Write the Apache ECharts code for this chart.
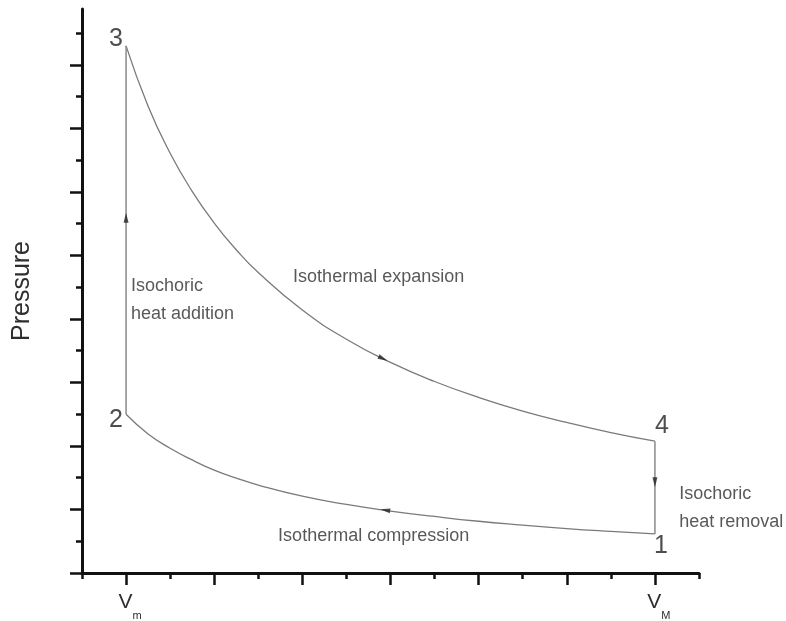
<!DOCTYPE html>
<html>
<head>
<meta charset="utf-8">
<script src="https://cdn.jsdelivr.net/npm/echarts@6/dist/echarts.min.js"></script>
<style>html,body{margin:0;padding:0;background:#fff;}#c{width:786px;height:621px;}</style>
</head>
<body>
<div id="c"></div>
<script>
// Volume axis positions (ticks) and labels
const xMinorTicks = [0, 2, 4, 6, 8, 10, 12, 14];
const xMajorTicks = [1, 3, 5, 7, 9, 11, 13];
const xLabelValues = [1, 13];
const xLabelSubs = ['m', 'M'];
// Pressure axis ticks
const yMajorTicks = [0, 2, 4, 6, 8, 10, 12, 14, 16];
const yMinorTicks = [1, 3, 5, 7, 9, 11, 13, 15, 17];
// Volume sample positions along both isotherms
const volume = [1, 1.5, 2, 2.5, 3, 3.5, 4, 5, 6, 7, 8, 9, 10, 11, 12, 13];
// Isothermal expansion 3 -> 4 (pressure)
const expansionP = [16.6, 14.70, 13.22, 12.02, 11.02, 10.18, 9.46, 8.28, 7.36, 6.63, 6.03, 5.53, 5.10, 4.74, 4.42, 4.15];
// Isothermal compression 1 -> 2 (pressure)
const compressionP = [5.0, 4.38, 3.93, 3.56, 3.24, 2.99, 2.77, 2.42, 2.16, 1.95, 1.78, 1.63, 1.51, 1.40, 1.31, 1.23];
// Direction arrows: [volume, pressure]
const arrowAddition = [1.0, 11.19];
const arrowRemoval = [13.0, 2.86];
const arrowExpansion = [6.83, 6.75];
const arrowCompression = [6.88, 1.98];
const cornerNames = ['3', '2', '4', '1'];

const FONT = "'Liberation Sans', Arial, Helvetica, sans-serif";
const TXT = '#2e2e2e';
const AX = '#111';

const expansion = volume.map(function (v, i) { return [v, expansionP[i]]; });
const compression = volume.map(function (v, i) { return [v, compressionP[i]]; });
const last = volume.length - 1;

const chart = echarts.init(document.getElementById('c'), null, {renderer: 'canvas'});

const corners = [expansion[0], compression[0], expansion[last], compression[last]];
const cornerOffsets = [[-10, -7], [-10, 6], [7, -15], [6, 12]];

const option = {
  backgroundColor: '#fff',
  animation: false,
  grid: {left: 82, right: 87, top: 9, bottom: 47, containLabel: false},
  xAxis: [
    {
      type: 'value', min: 0, max: 14, position: 'bottom',
      axisLine: {show: true, lineStyle: {color: AX, width: 3}},
      axisTick: {show: true, length: 6, customValues: xMinorTicks, lineStyle: {color: AX, width: 2.5}},
      axisLabel: {show: false},
      splitLine: {show: false}
    },
    {
      type: 'value', min: 0, max: 14, position: 'bottom',
      axisLine: {show: false},
      axisTick: {show: true, length: 12, customValues: xMajorTicks, lineStyle: {color: AX, width: 2.5}},
      axisLabel: {
        show: true,
        customValues: xLabelValues,
        margin: 19,
        formatter: function (v) {
          const i = xLabelValues.indexOf(v);
          return '{sp| }{v|V}{s|' + (i >= 0 ? xLabelSubs[i] : '') + '}';
        },
        rich: {
          sp: {width: 8, fontSize: 10},
          v: {fontSize: 21, color: TXT, fontFamily: FONT, padding: [0, 0, 8, 0]},
          s: {fontSize: 11, color: TXT, fontFamily: FONT, verticalAlign: 'bottom'}
        }
      },
      splitLine: {show: false}
    }
  ],
  yAxis: [
    {
      type: 'value', min: 0, max: 17.76, position: 'left',
      name: 'Pressure', nameLocation: 'middle', nameGap: 47,
      nameTextStyle: {fontSize: 25, color: TXT, fontFamily: FONT},
      axisLine: {show: true, lineStyle: {color: AX, width: 3}},
      axisTick: {show: true, length: 6, customValues: yMinorTicks, lineStyle: {color: AX, width: 2.5}},
      axisLabel: {show: false},
      splitLine: {show: false}
    },
    {
      type: 'value', min: 0, max: 17.76, position: 'left',
      axisLine: {show: false},
      axisTick: {show: true, length: 12, customValues: yMajorTicks, lineStyle: {color: AX, width: 2.5}},
      axisLabel: {show: false},
      splitLine: {show: false}
    }
  ],
  series: [
    {
      type: 'line', data: expansion, smooth: 0.5,
      showSymbol: false, lineStyle: {color: '#7a7a7a', width: 1.3}, z: 2
    },
    {
      type: 'line', data: compression, smooth: 0.5,
      showSymbol: false, lineStyle: {color: '#7a7a7a', width: 1.3}, z: 2
    },
    {
      type: 'line', data: [compression[0], expansion[0]],
      showSymbol: false, lineStyle: {color: '#8a8a8a', width: 1.5}, z: 2
    },
    {
      type: 'line', data: [expansion[last], compression[last]],
      showSymbol: false, lineStyle: {color: '#8a8a8a', width: 1.5}, z: 2
    },
    {
      type: 'scatter', z: 5,
      symbol: 'path://M0,0L4,10L-4,10Z', symbolSize: [5, 10],
      itemStyle: {color: '#222'},
      data: [
        {value: arrowAddition, symbolRotate: 0},
        {value: arrowRemoval, symbolRotate: 180},
        {value: arrowExpansion, symbolRotate: -115.6},
        {value: arrowCompression, symbolRotate: 81.4}
      ]
    },
    {
      type: 'scatter', z: 6, symbolSize: 0, silent: true,
      data: corners.map(function (p, i) {
        return {
          value: p, name: cornerNames[i],
          label: {show: true, position: 'inside', offset: cornerOffsets[i], formatter: '{b}',
            fontSize: 25, color: '#222', fontFamily: FONT}
        };
      })
    },
    {
      type: 'scatter', z: 6, symbolSize: 0, silent: true,
      label: {show: true, position: 'right', distance: 0, formatter: '{b}', fontSize: 18,
        color: TXT, fontFamily: FONT, lineHeight: 28, align: 'left', verticalAlign: 'middle'},
      data: [
        {value: [1.11, 8.58], name: 'Isochoric\nheat addition'},
        {value: [4.79, 9.31], name: 'Isothermal expansion'},
        {value: [4.45, 1.16], name: 'Isothermal compression'},
        {value: [13.55, 2.04], name: 'Isochoric\nheat removal'}
      ]
    }
  ]
};
chart.setOption(option);
</script>
</body>
</html>
